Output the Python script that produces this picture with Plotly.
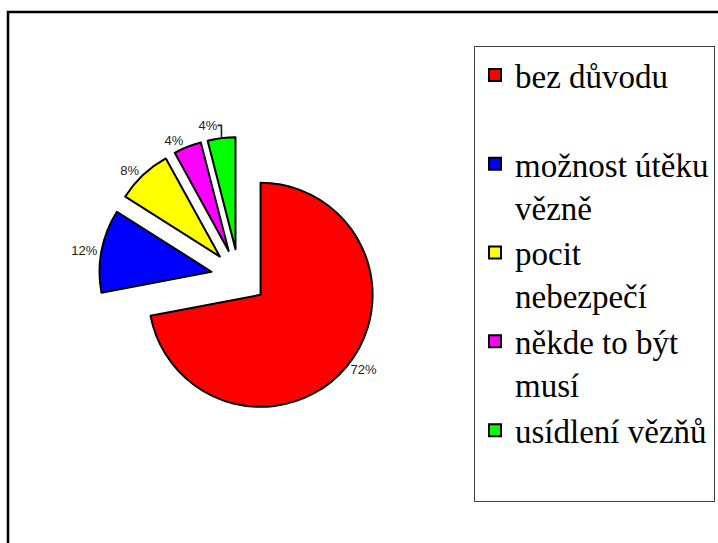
import plotly.graph_objects as go

labels = ["bez důvodu<br> ", "možnost útěku<br>vězně", "pocit<br>nebezpečí",
          "někde to být<br>musí", "usídlení vězňů<br> "]
values = [72, 12, 8, 4, 4]
colors = ["#FF0000", "#0000FF", "#FFFF00", "#FF00FF", "#00FF00"]

W, H = 718, 543

fig = go.Figure(go.Pie(
    labels=labels,
    values=values,
    sort=False,
    direction="clockwise",
    rotation=0,
    pull=[0.25] * len(values),
    marker=dict(colors=colors, line=dict(color="black", width=2)),
    textinfo="percent",
    textposition="outside",
    textfont=dict(family="Liberation Sans, Arial", size=13, color="#222222"),
    domain=dict(x=[99 / W, 379 / W], y=[1 - 417 / H, 1 - 137 / H]),
    hoverinfo="label+percent",
))

fig.update_layout(
    width=W, height=H,
    margin=dict(l=0, r=0, t=0, b=0),
    paper_bgcolor="white",
    plot_bgcolor="white",
    showlegend=True,
    legend=dict(
        x=474 / W, y=1 - 46 / H, xanchor="left", yanchor="top",
        font=dict(family="Liberation Serif, Times New Roman", size=33, color="black"),
        bgcolor="white", bordercolor="#404040", borderwidth=1,
        valign="top",
    ),
    shapes=[dict(type="rect", xref="paper", yref="paper",
                 x0=8 / W, x1=1.1, y0=1 - 12 / H, y1=-0.1,
                 line=dict(color="black", width=2.5), fillcolor="rgba(0,0,0,0)")],
)

fig.write_html("out.html",
               config={"displayModeBar": False},
               post_script="document.body.style.margin='0px';document.body.style.padding='0px';")
